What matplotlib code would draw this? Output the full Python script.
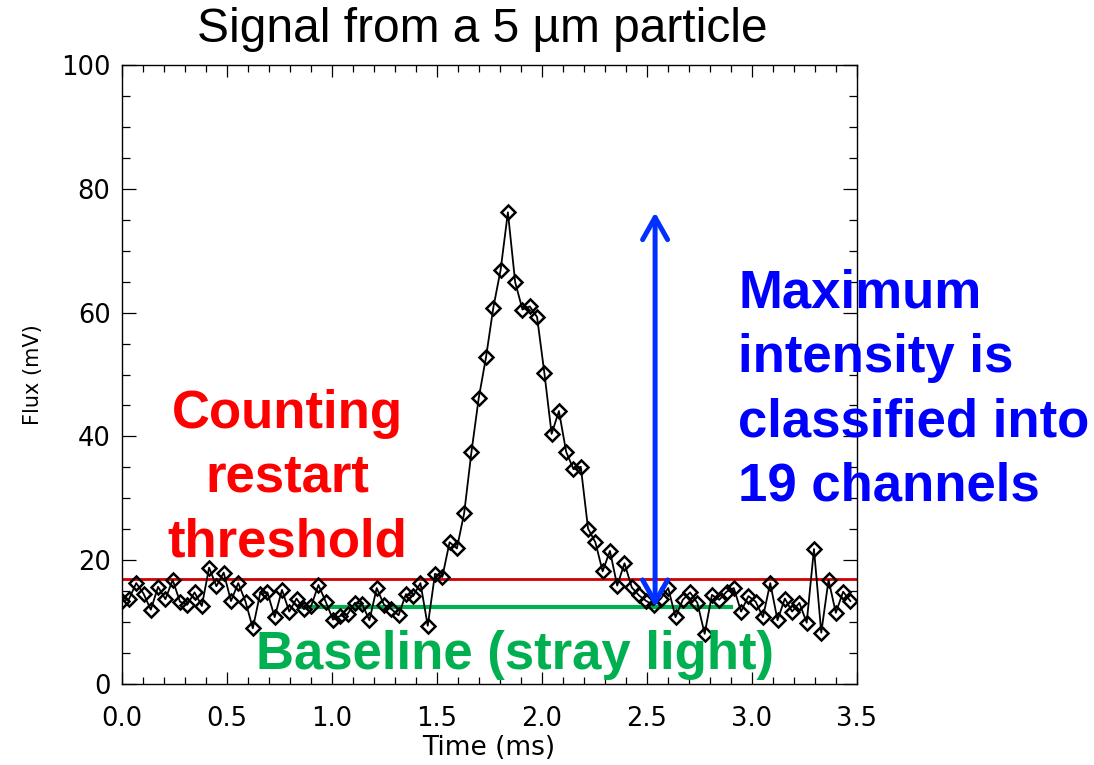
import numpy as np
import matplotlib
matplotlib.use('Agg')
import matplotlib.pyplot as plt
from matplotlib.ticker import MultipleLocator, FormatStrFormatter

# 粒子信号 (mV)，等间隔采样
flux = [13.4, 13.7, 16.3, 14.6, 12.0, 15.7, 13.7, 16.8, 13.3, 12.8,
        14.8, 12.6, 18.8, 15.8, 18.0, 13.4, 16.3, 13.3, 9.0, 14.6,
        14.8, 10.8, 15.2, 11.7, 13.8, 12.1, 12.6, 16.0, 13.3, 10.4,
        11.0, 11.3, 13.1, 12.9, 10.3, 15.5, 12.8, 12.1, 11.1, 14.5,
        14.2, 16.3, 9.4, 17.8, 17.3, 22.9, 21.9, 27.6, 37.5, 46.2,
        52.8, 60.8, 66.9, 76.2, 64.9, 60.5, 61.0, 59.3, 50.3, 40.4,
        44.1, 37.5, 34.7, 35.1, 25.1, 22.9, 18.2, 21.5, 15.9, 19.5,
        15.6, 14.3, 13.4, 12.7, 13.8, 15.5, 10.8, 13.6, 14.8, 13.1,
        8.1, 14.4, 13.6, 14.9, 15.5, 11.7, 14.2, 13.3, 10.8, 16.3,
        10.3, 13.8, 11.7, 13.1, 9.9, 21.8, 8.3, 16.8, 11.5, 14.9,
        13.4]
t_start, t_end = 0.0, 3.47          # 采样起止时间 (ms)
threshold = 17.0                     # 计数重启阈值
baseline = 12.4                      # 基线（杂散光）
baseline_span = [0.85, 2.90]
arrow_t = 2.54

time = np.linspace(t_start, t_end, len(flux))

fig = plt.figure(figsize=(10.94, 7.65), dpi=100)
ax = fig.add_axes([0.1112, 0.1059, 0.6719, 0.8091])

ax.plot(time, flux, color='black', lw=1.3, marker='D', ms=7.6,
        mfc='none', mec='black', mew=1.8, zorder=3)
ax.axhline(threshold, color='#D00000', lw=2.0, zorder=2)
ax.plot(baseline_span, [baseline, baseline], color='#00B050', lw=3.0, zorder=2)

# 最大强度双箭头
ax.annotate('', xy=(arrow_t, max(flux)), xytext=(arrow_t, baseline),
            arrowprops=dict(arrowstyle='<->, head_length=0.8, head_width=0.45',
                            color='#0030FF', lw=3.6, mutation_scale=20,
                            shrinkA=0, shrinkB=0), zorder=4)

ax.set_xlim(0, 3.5)
ax.set_ylim(0, 100)
ax.xaxis.set_major_locator(MultipleLocator(0.5))
ax.xaxis.set_minor_locator(MultipleLocator(0.1))
ax.yaxis.set_major_locator(MultipleLocator(20))
ax.yaxis.set_minor_locator(MultipleLocator(5))
ax.xaxis.set_major_formatter(FormatStrFormatter('%.1f'))
ax.tick_params(which='both', direction='in', top=True, right=True,
               labelsize=18.5, width=0.9)
ax.tick_params(axis='y', which='major', length=10, pad=8)
ax.tick_params(axis='y', which='minor', length=5.5)
ax.tick_params(axis='x', which='major', length=8.5, pad=16)
ax.tick_params(axis='x', which='minor', length=5)
for s in ax.spines.values():
    s.set_linewidth(1.0)

ax.set_xlabel('Time (ms)', fontsize=19, labelpad=2)
ax.set_ylabel('Flux (mV)', fontsize=15, labelpad=13)

fig.text(482 / 1094, 1 - 30 / 765, 'Signal from a 5 µm particle',
         fontsize=34.5, family='Liberation Sans', ha='center', va='center')

fig.text(287 / 1094, 1 - 478 / 765, 'Counting\nrestart\nthreshold',
         fontsize=38, family='Liberation Sans', weight='bold', color='#FF0000',
         ha='center', va='center', multialignment='center', linespacing=1.36)
fig.text(738 / 1094, 1 - 390 / 765,
         'Maximum\nintensity is\nclassified into\n19 channels',
         fontsize=38, family='Liberation Sans', weight='bold', color='#0000FF',
         ha='left', va='center', linespacing=1.36)
fig.text(515 / 1094, 1 - 655 / 765, 'Baseline (stray light)',
         fontsize=38, family='Liberation Sans', weight='bold', color='#00B050',
         ha='center', va='center')

fig.savefig('out.png', dpi=100)
